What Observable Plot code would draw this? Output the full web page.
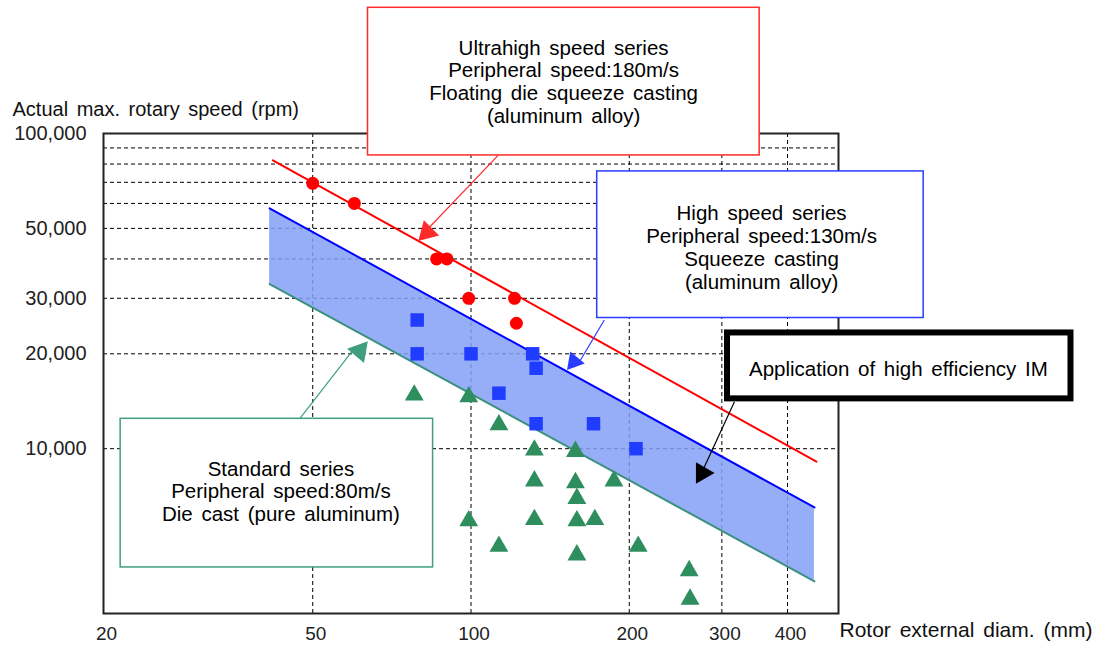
<!DOCTYPE html>
<html>
<head>
<meta charset="utf-8">
<script src="https://cdn.jsdelivr.net/npm/d3@7"></script>
<script src="https://cdn.jsdelivr.net/npm/@observablehq/plot@0.6"></script>
<style>
  html, body { margin: 0; padding: 0; background: #fff; }
  #chart { width: 1102px; height: 648px; }
</style>
</head>
<body>
<div id="chart"></div>
<script>
// ---- Data (rotor external diameter in mm, actual max rotary speed in rpm) ----
const ultraDiam = [50, 60, 86, 90, 99, 121, 122];
const ultraRpm  = [69500, 60000, 40000, 40000, 30000, 30000, 25000];

const highDiam = [79, 79, 100, 131, 133, 113, 133, 171, 206];
const highRpm  = [25600, 20000, 20000, 20000, 18000, 15000, 12000, 12000, 10000];

const stdDiam = [78, 99, 113, 132, 158, 187, 132, 158, 159, 99, 132, 159, 172, 113, 159, 208, 260, 261];
const stdRpm  = [14800, 14600, 11900, 9900, 9800, 7900, 7900, 7800, 6950, 5900, 5960, 5900, 5960, 4900, 4600, 4900, 4100, 3330];

// Limit line of the ultrahigh speed series (180 m/s)
const ultraLineDiam = [42, 454];
const ultraLineRpm  = [82200, 9100];

// Band: high efficiency IM region between 130 m/s line and 80 m/s line
const bandDiam   = [41.4, 450];
const bandTopRpm = [57900, 6510];
const bandLowRpm = [33300, 3795];

// Axes
const xTicks = [20, 50, 100, 200, 300, 400];
const yTicks = [10000, 20000, 30000, 50000, 100000];
const xGrid  = [50, 100, 200, 300, 400];
const yGrid  = [10000, 20000, 30000, 40000, 50000, 60000, 70000, 80000, 90000];

const xTitle = "Rotor external diam. (mm)";
const yTitle = "Actual max. rotary speed (rpm)";

// Annotation texts
const noteTexts = [
  "Ultrahigh speed series\nPeripheral speed:180m/s\nFloating die squeeze casting\n(aluminum alloy)",
  "High speed series\nPeripheral speed:130m/s\nSqueeze casting\n(aluminum alloy)",
  "Application of high efficiency IM",
  "Standard series\nPeripheral speed:80m/s\nDie cast (pure aluminum)"
];

// Annotation boxes (data units)
const boxX1 = [63.7, 173.8, 307.5, 21.56];
const boxX2 = [354, 726, 1384, 84.7];
const boxY1 = [250500, 75800, 23290, 12440];
const boxY2 = [85200, 25980, 14390, 4200];
const noteX = [150, 357, 650, 43.5];
const noteY = [146100, 43600, 17910, 7335];

// Leader lines (data units): start at box, end at arrow head
const leadX1 = [112.6, 179.3, 317, 47.2];
const leadY1 = [85200, 25600, 14090, 12440];
const leadX2 = [80.3, 160, 272, 60];
const leadY2 = [47200, 18600, 8100, 20800];
const headX  = [82.5, 157, 275.2, 61.4];
const headY  = [48600, 18890, 8379, 20420];

// ---- Build tables ----
const pts = (xs, ys) => xs.map((x, i) => ({x, y: ys[i]}));
const ultra = pts(ultraDiam, ultraRpm);
const high = pts(highDiam, highRpm);
const std = pts(stdDiam, stdRpm);
const ultraLine = pts(ultraLineDiam, ultraLineRpm);
const band = bandDiam.map((x, i) => ({x, top: bandTopRpm[i], low: bandLowRpm[i]}));

const colors = ["#ff2a2a", "#2a3cff", "#000000", "#3f9f7f"];
const boxStrokeW = [1.5, 1.5, 6, 1.5];
const headRotate = [-135, -140, -150, 40];
const headR = [8, 7, 8, 8.2];

const boxes = boxX1.map((x1, i) => ({x1, x2: boxX2[i], y1: boxY1[i], y2: boxY2[i], i}));
const notes = noteTexts.map((t, i) => ({text: t, x: noteX[i], y: noteY[i], i}));
const leads = leadX1.map((x1, i) => ({x1, y1: leadY1[i], x2: leadX2[i], y2: leadY2[i], i}));
const heads = headX.map((x, i) => ({x, y: headY[i], i}));

const FONT = "'Liberation Sans', Arial, Helvetica, sans-serif";

const marks = [
  Plot.gridY(yGrid, {stroke: "#000", strokeOpacity: 1, strokeWidth: 1, strokeDasharray: "4,3"}),
  Plot.gridX(xGrid, {stroke: "#000", strokeOpacity: 1, strokeWidth: 1, strokeDasharray: "4,3"}),
  Plot.areaY(band, {x: "x", y1: "low", y2: "top", fill: "#84a0f6", fillOpacity: 0.85}),
  Plot.line(band, {x: "x", y: "top", stroke: "#0000ff", strokeWidth: 2}),
  Plot.line(band, {x: "x", y: "low", stroke: "#3a9080", strokeWidth: 2}),
  Plot.line(ultraLine, {x: "x", y: "y", stroke: "#ff0000", strokeWidth: 2}),
  Plot.dot(ultra, {x: "x", y: "y", r: 6.5, fill: "#ff0000", symbol: "circle"}),
  Plot.dot(high, {x: "x", y: "y", r: 7.6, fill: "#1f3cff", symbol: "square"}),
  Plot.dot(std, {x: "x", y: "y", r: 7, fill: "#2e8e5e", symbol: "triangle"}),
  Plot.frame({stroke: "#222", strokeWidth: 2}),
  Plot.axisY(yTicks, {anchor: "left", tickSize: 0, tickPadding: 17, tickFormat: d3.format(","), fontSize: 20, fill: "#222", label: null}),
  Plot.axisX(xTicks, {anchor: "bottom", tickSize: 0, tickPadding: 13, tickFormat: d => String(d), fontSize: 19, fill: "#222", dx: 3, label: null}),
  Plot.text([yTitle], {frameAnchor: "top-left", dx: -91, dy: -32, textAnchor: "start", fontSize: 20, fill: "#111"}),
  Plot.text([xTitle], {frameAnchor: "bottom-right", dx: 1, dy: 23, textAnchor: "start", fontSize: 21, fill: "#111"}),
  // leaders
  ...leads.map(d => Plot.link([d], {x1: "x1", y1: "y1", x2: "x2", y2: "y2", stroke: colors[d.i], strokeWidth: 1.2, clip: false})),
  ...heads.map(d => Plot.dot([d], {x: "x", y: "y", symbol: "triangle", r: headR[d.i], fill: colors[d.i], rotate: headRotate[d.i]})),
  // boxes
  ...boxes.map(d => Plot.rect([d], {x1: "x1", x2: "x2", y1: "y1", y2: "y2", fill: "#fff", stroke: colors[d.i], strokeWidth: boxStrokeW[d.i]})),
  Plot.text(notes, {x: "x", y: "y", text: "text", fontSize: 20.5, lineHeight: 1.12, textAnchor: "middle", fill: "#000"})
];

const chart = Plot.plot({
  width: 1102,
  height: 648,
  marginLeft: 103,
  marginRight: 264,
  marginTop: 133,
  marginBottom: 35,
  x: {type: "log", domain: [20, 500], axis: null},
  y: {type: "log", domain: [3000, 100000], axis: null},
  style: {fontFamily: FONT, background: "#fff", overflow: "visible", wordSpacing: "3px"},
  marks
});
document.getElementById("chart").appendChild(chart);
</script>
</body>
</html>
